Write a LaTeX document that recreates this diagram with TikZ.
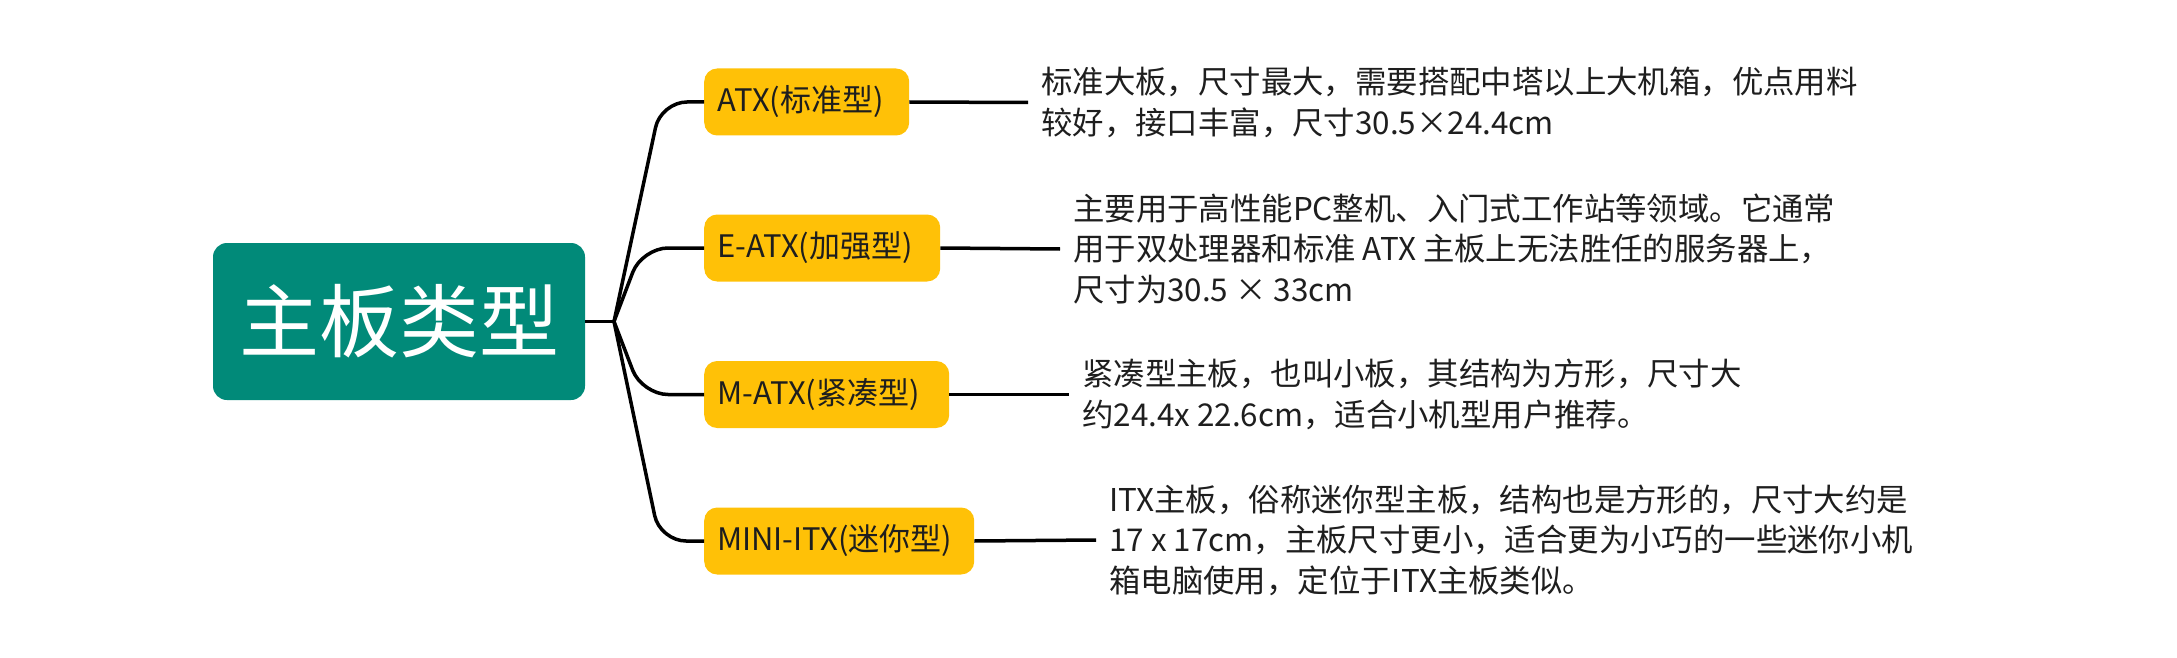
\documentclass[tikz,border=0pt]{standalone}
\usepackage{fontspec}
\setmainfont{Noto Sans CJK SC}
\definecolor{teal1}{HTML}{018A79}
\definecolor{amber1}{HTML}{FFC107}
\definecolor{ink}{HTML}{1E1E1E}
\begin{document}
\begin{tikzpicture}[x=1pt,y=-1pt,
  rootbox/.style={fill=teal1,rounded corners=14pt,text=white,minimum width=372pt,minimum height=157pt,
    inner sep=0pt,font=\fontsize{80}{90}\selectfont},
  catbox/.style={fill=amber1,rounded corners=13pt,text=ink,minimum height=67pt,inner xsep=13pt,
    anchor=west,align=left,font=\fontsize{31}{36}\selectfont},
  descbox/.style={anchor=west,align=left,inner xsep=13pt,inner ysep=0pt,text=ink,
    font=\fontsize{31.4}{40.5}\selectfont},
  link/.style={draw=black,line width=3.5pt},
  branch/.style={link,rounded corners=26pt}]
\useasboundingbox (0,0) rectangle (2177,658);
\node[rootbox] (root) at (399,321.5) {主板类型};
\coordinate (hub) at (614,321.5);
\node[catbox,text width=179pt] (atx) at (704,102) {ATX(标准型)};
\node[catbox,text width=210pt] (eatx) at (704,248) {E-ATX(加强型)};
\node[catbox,text width=219pt] (matx) at (704,394.5) {M-ATX(紧凑型)};
\node[catbox,text width=244pt] (itx) at (704,541) {MINI-ITX(迷你型)};
\draw[link] (root.east) -- (hub);
\draw[branch] (hub) -- (661,102) -- (atx.west);
\draw[branch] (hub) -- (642,248) -- (eatx.west);
\draw[branch] (hub) -- (642,394.5) -- (matx.west);
\draw[branch] (hub) -- (660,541) -- (itx.west);
\node[descbox] (atxd) at (1028,102.5) {标准大板，尺寸最大，需要搭配中塔以上大机箱，优点用料\\较好，接口丰富，尺寸30.5×24.4cm};
\node[descbox] (eatxd) at (1060,249) {主要用于高性能PC整机、入门式工作站等领域。它通常\\用于双处理器和标准 ATX 主板上无法胜任的服务器上，\\尺寸为30.5 × 33cm};
\node[descbox] (matxd) at (1069,394.5) {紧凑型主板，也叫小板，其结构为方形，尺寸大\\约24.4x 22.6cm，适合小机型用户推荐。};
\node[descbox] (itxd) at (1096,540) {ITX主板，俗称迷你型主板，结构也是方形的，尺寸大约是\\17 x 17cm，主板尺寸更小，适合更为小巧的一些迷你小机\\箱电脑使用，定位于ITX主板类似。};
\draw[link] (atx.east) -- (atxd.west);
\draw[link] (eatx.east) -- (eatxd.west);
\draw[link] (matx.east) -- (matxd.west);
\draw[link] (itx.east) -- (itxd.west);
\end{tikzpicture}
\end{document}
